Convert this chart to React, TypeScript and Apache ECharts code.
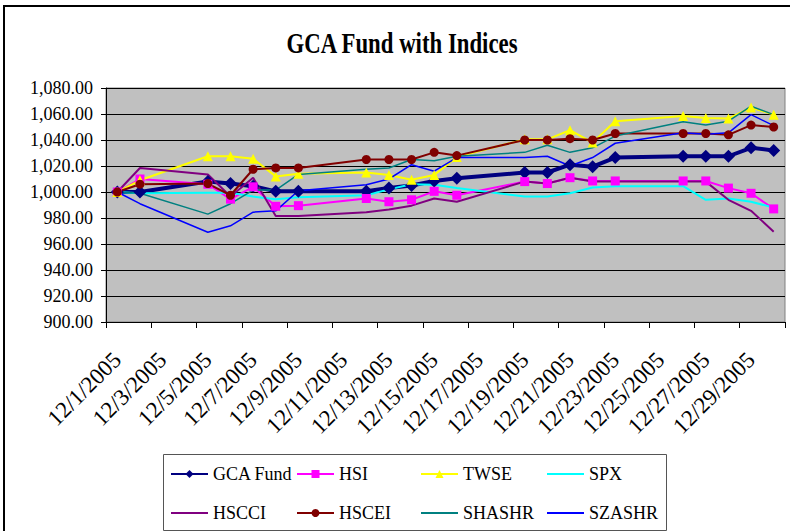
import React, { useEffect, useRef } from "react";
import * as echarts from "echarts";

const dates = [
  "12/1/2005", "12/2/2005", "12/3/2005", "12/4/2005", "12/5/2005", "12/6/2005",
  "12/7/2005", "12/8/2005", "12/9/2005", "12/10/2005", "12/11/2005", "12/12/2005",
  "12/13/2005", "12/14/2005", "12/15/2005", "12/16/2005", "12/17/2005", "12/18/2005",
  "12/19/2005", "12/20/2005", "12/21/2005", "12/22/2005", "12/23/2005", "12/24/2005",
  "12/25/2005", "12/26/2005", "12/27/2005", "12/28/2005", "12/29/2005", "12/30/2005",
];

const gcaFund = [1000, 1000, null, null, 1008, 1006.5, 1004.5, 1000.5, 1000.5, null, null, 1000.5, 1003, 1005, 1008.5, 1010.5, null, null, 1015, 1015, 1021, 1019.5, 1026.5, null, null, 1027.5, 1027.5, 1027.5, 1034, 1032];
const hsi = [1000, 1010, null, null, 1006, 994.5, 1004, 989, 989.5, null, null, 995, 992.5, 994, 1000.5, 997.5, null, null, 1008, 1006.5, 1011, 1008.5, 1008.5, null, null, 1008.5, 1008.5, 1003, 999, 987];
const twse = [1000, 1009, null, null, 1027.5, 1027.5, 1025.5, 1012, 1014, null, null, 1015, 1013, 1009.5, 1013, 1027, null, null, 1040.5, 1040.5, 1047.5, 1038, 1054.5, null, null, 1058.5, 1057, 1056.5, 1065, 1059.5];
const spx = [1000, 999, null, null, 999.5, 999.5, 996.5, 994.5, 996, null, null, 997.5, 1002, 1006, 1005.5, 1003, null, null, 996.5, 996.5, 999, 1003.5, 1004.5, null, null, 1004.5, 994, 995, 992.5, 988];
const hscci = [1000, 1018.5, null, null, 1013.5, 996.5, 1011, 981.5, 981.5, null, null, 984.5, 986.5, 989.5, 995, 992.5, null, null, 1008, 1006.5, 1011, 1008, 1008, null, null, 1008, 1008, 994, 985.5, 969.5];
const hscei = [1000, 1006, null, null, 1006.5, 997.5, 1017.5, 1018.5, 1018.5, null, null, 1025, 1025, 1025, 1030.5, 1028, null, null, 1040, 1040, 1041, 1040, 1045, null, null, 1045, 1045, 1044, 1051.5, 1050];
const shashr = [1000, 999, null, null, 983, 991, 1001.5, 1001.5, 1013.5, null, null, 1017.5, 1018.5, 1025, 1024, 1027.5, null, null, 1030.5, 1036, 1030.5, 1034, 1043, null, null, 1054, 1051.5, 1054.5, 1066, 1059.5];
const szashr = [1000, 991, null, null, 969, 974, 984.5, 985.5, 1001, null, null, 1005.5, 1010, 1021, 1016, 1026.5, null, null, 1026.5, 1027.5, 1020, 1026.5, 1037.5, null, null, 1045.5, 1044.5, 1045.5, 1059.5, 1051];

const seriesNames = ["GCA Fund", "HSI", "TWSE", "SPX", "HSCCI", "HSCEI", "SHASHR", "SZASHR"];
const chartTitle = "GCA Fund with Indices";
const yMin = 900;
const yMax = 1080;
const yStep = 20;

export default function App() {
  const ref = useRef<HTMLDivElement>(null);
  useEffect(() => {
    const chart = echarts.init(ref.current as HTMLDivElement, null, { renderer: "svg" });
    const font = "Liberation Serif";
    const mk = (name: string, data: (number | null)[], color: string, width: number, symbol: string, size: number) => ({
      name,
      type: "line",
      data,
      connectNulls: true,
      symbol,
      symbolSize: size,
      showSymbol: symbol !== "none",
      lineStyle: { color, width },
      itemStyle: { color, borderWidth: 0 },
      emphasis: { disabled: true },
    });
    const legendPos = [
      [170, 474], [296, 474], [420, 474], [546, 474],
      [170, 513], [296, 513], [420, 513], [546, 513],
    ];
    const noMarker = ["SPX", "HSCCI", "SHASHR", "SZASHR"];
    chart.setOption({
      animation: false,
      backgroundColor: "#ffffff",
      legend: seriesNames.map((n, i) => ({
        data: [n],
        left: legendPos[i][0],
        top: legendPos[i][1] - 9,
        padding: 0,
        itemWidth: 37,
        itemHeight: 10,
        selectedMode: false,
        ...(noMarker.includes(n) ? { itemStyle: { color: "rgba(0,0,0,0)", borderWidth: 0 } } : {}),
        textStyle: { fontFamily: font, fontSize: 18, color: "#000", lineHeight: 18 },
      })),
      graphic: [
        { type: "rect", shape: { x: 4, y: 6, width: 800, height: 540 }, style: { fill: "none", stroke: "#000", lineWidth: 2 }, silent: true },
        { type: "rect", shape: { x: 163.5, y: 454.5, width: 503, height: 76 }, style: { fill: "none", stroke: "#555", lineWidth: 1 }, silent: true },
        {
          type: "text",
          x: 402,
          y: 43,
          scaleX: 0.76,
          silent: true,
          style: {
            text: chartTitle,
            fontFamily: font,
            fontSize: 30,
            fontWeight: "bold",
            fill: "#000",
            textAlign: "center",
            textVerticalAlign: "middle",
          },
        },
      ],
      grid: {
        left: 106,
        right: 5,
        top: 88,
        bottom: 209,
        show: true,
        backgroundColor: "#c0c0c0",
        borderColor: "#808080",
        borderWidth: 1,
      },
      xAxis: {
        type: "category",
        data: dates,
        boundaryGap: true,
        axisLine: { show: true, lineStyle: { color: "#000", width: 1 } },
        axisTick: { show: true, interval: 1, length: 6, lineStyle: { color: "#000" } },
        axisLabel: { interval: 1, rotate: 45, margin: 34, fontFamily: font, fontSize: 23, color: "#000" },
        splitLine: { show: false },
      },
      yAxis: {
        type: "value",
        min: yMin,
        max: yMax,
        interval: yStep,
        axisLine: { show: true, lineStyle: { color: "#000", width: 1 } },
        axisTick: { show: true, length: 5, lineStyle: { color: "#000" } },
        axisLabel: {
          margin: 13,
          fontFamily: font,
          fontSize: 18,
          color: "#000",
          formatter: (v: number) => v.toLocaleString("en-US", { minimumFractionDigits: 2, maximumFractionDigits: 2 }),
        },
        splitLine: { show: true, lineStyle: { color: "#000", width: 1 } },
      },
      series: [
        mk("GCA Fund", gcaFund, "#000080", 4, "diamond", 13),
        mk("HSI", hsi, "#ff00ff", 2, "rect", 9),
        mk("TWSE", twse, "#ffff00", 2, "triangle", 10),
        mk("SPX", spx, "#00ffff", 2, "none", 0),
        mk("HSCCI", hscci, "#800080", 2, "none", 0),
        mk("HSCEI", hscei, "#800000", 2, "circle", 9),
        mk("SHASHR", shashr, "#008080", 1.5, "none", 0),
        mk("SZASHR", szashr, "#0000ff", 1.5, "none", 0),
      ],
    });
    return () => chart.dispose();
  }, []);
  return (
    <div
      ref={ref}
      style={{ position: "fixed", left: 0, top: 0, width: 790, height: 531, background: "#fff" }}
    />
  );
}
